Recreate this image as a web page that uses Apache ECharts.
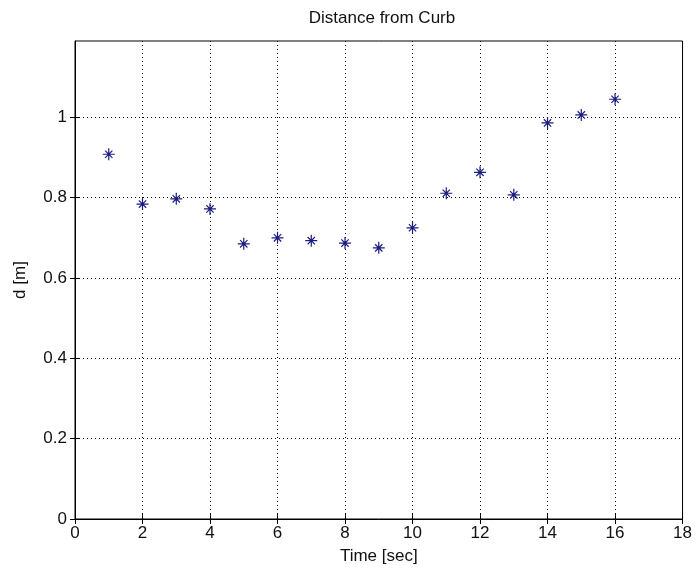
<!DOCTYPE html>
<html>
<head>
<meta charset="utf-8">
<script src="https://cdn.jsdelivr.net/npm/echarts@6/dist/echarts.min.js"></script>
<style>
html,body{margin:0;padding:0;background:#fff;}
#chart{width:695px;height:573px;}
</style>
</head>
<body>
<div id="chart"></div>
<script>
const timeSec = [1, 2, 3, 4, 5, 6, 7, 8, 9, 10, 11, 12, 13, 14, 15, 16];
const distance = [0.908, 0.784, 0.797, 0.772, 0.685, 0.700, 0.693, 0.687, 0.675, 0.725, 0.811, 0.863, 0.807, 0.986, 1.006, 1.045];
const xTicks = [0, 2, 4, 6, 8, 10, 12, 14, 16, 18];
const yTicks = [0, 0.2, 0.4, 0.6, 0.8, 1];
const yMax = 1.19;

const starPath = 'path://M0,45L100,45L100,55L0,55Z M45,0L55,0L55,100L45,100Z M23,16L84,77L77,84L16,23Z M77,16L84,23L23,84L16,77Z';
const font = 'Liberation Sans, Arial, sans-serif';
const chart = echarts.init(document.getElementById('chart'));
const points = timeSec.map((t, i) => [t, distance[i]]);

const gridLine = {show: true, lineStyle: {color: '#000', type: [1, 3], width: 1}};
const tick = {show: true, inside: true, length: 5, lineStyle: {color: '#000'}};
chart.setOption({
  backgroundColor: '#fff',
  animation: false,
  title: {
    text: 'Distance from Curb',
    left: 377, top: 5, textAlign: 'center',
    textStyle: {fontFamily: font, fontSize: 17, fontWeight: 'normal', color: '#111'}
  },
  grid: {left: 75, right: 11, top: 41, bottom: 54, containLabel: false,
    show: true, borderColor: '#000', borderWidth: 1, backgroundColor: 'transparent'},
  xAxis: [{
    type: 'value', min: xTicks[0], max: xTicks[xTicks.length - 1], interval: 2,
    name: 'Time [sec]', nameLocation: 'middle', nameGap: 29,
    nameTextStyle: {fontFamily: font, fontSize: 17, color: '#111'},
    axisLine: {show: true, onZero: false, lineStyle: {color: '#000', width: 1}},
    axisTick: Object.assign({customValues: xTicks}, tick),
    axisLabel: {fontFamily: font, fontSize: 17, color: '#111', margin: 6, customValues: xTicks},
    splitLine: gridLine
  }, {
    type: 'value', position: 'top', min: xTicks[0], max: xTicks[xTicks.length - 1], interval: 2,
    axisLine: {show: false},
    axisTick: Object.assign({customValues: xTicks}, tick),
    axisLabel: {show: false}, splitLine: {show: false}
  }],
  yAxis: [{
    type: 'value', min: yTicks[0], max: yMax, interval: 0.2,
    name: 'd [m]', nameLocation: 'middle', nameGap: 46,
    nameTextStyle: {fontFamily: font, fontSize: 17, color: '#111'},
    axisLine: {show: true, onZero: false, lineStyle: {color: '#000', width: 1}},
    axisTick: Object.assign({customValues: yTicks}, tick),
    axisLabel: {fontFamily: font, fontSize: 17, color: '#111', margin: 8, customValues: yTicks,
      formatter: v => String(Math.round(v * 10) / 10)},
    splitLine: gridLine
  }, {
    type: 'value', position: 'right', min: yTicks[0], max: yMax, interval: 0.2,
    axisLine: {show: false},
    axisTick: Object.assign({customValues: yTicks}, tick),
    axisLabel: {show: false}, splitLine: {show: false}
  }],
  series: [{
    type: 'scatter',
    data: points,
    symbol: starPath,
    symbolSize: 12,
    itemStyle: {color: '#1c1c80', opacity: 1}
  }]
});
</script>
</body>
</html>
